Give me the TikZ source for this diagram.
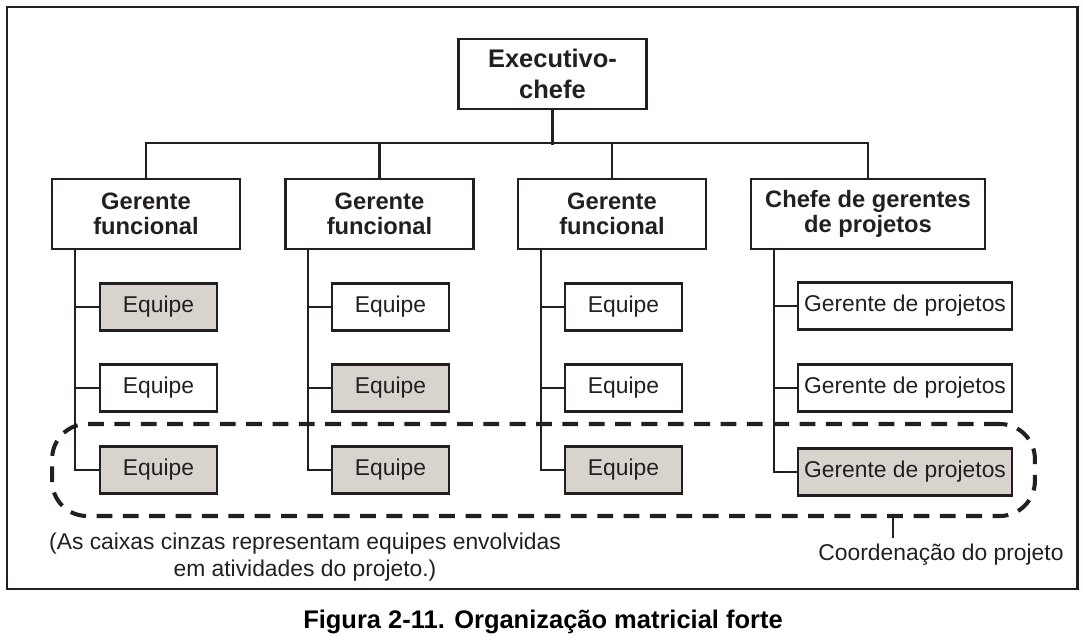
\documentclass[tikz,border=0pt]{standalone}
\usepackage{amsmath}
\usepackage{fontspec}
\setmainfont{Liberation Sans}
\usepackage{tikz}
\usetikzlibrary{arrows.meta}
\usetikzlibrary{backgrounds}
\definecolor{boxgray}{RGB}{217,211,205}
\definecolor{ink}{RGB}{35,31,32}

\begin{document}
\begin{tikzpicture}[x=0.02cm, y=-0.02cm,
        head/.style={draw=ink, line width=1.4pt, text=ink, minimum width=3.76cm, minimum height=1.4cm, inner sep=0pt, align=center, font=\fontsize{13.5}{14.5}\selectfont\bfseries},
        team/.style={draw=ink, line width=1.4pt, text=ink, minimum width=2.34cm, minimum height=0.94cm, inner sep=0pt, font=\fontsize{13}{15}\selectfont},
        link/.style={draw=ink, line width=1.2pt},
        note/.style={text=ink, align=center, font=\fontsize{13}{15.4}\selectfont}]
        \useasboundingbox (0,0) rectangle (1083,642);
        \draw[ink, line width=1.7pt] (7,7) rectangle (1077,589);

        \node[head, font=\fontsize{14.5}{17.5}\selectfont\bfseries] (exec) at (552.5,74) {Executivo-\\chefe};
        \node[head] (gf1) at (146,214) {Gerente\\funcional};
        \node[head] (gf2) at (379.5,214) {Gerente\\funcional};
        \node[head] (gf3) at (612,214) {Gerente\\funcional};
        \node[head, minimum width=4.68cm] (chefe) at (868,214) {Chefe de gerentes\\de projetos};

        \node[team, fill=boxgray] (eq11) at (158.5,307) {Equipe};
        \node[team] (eq12) at (158.5,388) {Equipe};
        \node[team, fill=boxgray] (eq13) at (158.5,470) {Equipe};
        \node[team] (eq21) at (390.5,307) {Equipe};
        \node[team, fill=boxgray] (eq22) at (390.5,388) {Equipe};
        \node[team, fill=boxgray] (eq23) at (390.5,470) {Equipe};
        \node[team] (eq31) at (623.5,307) {Equipe};
        \node[team] (eq32) at (623.5,388) {Equipe};
        \node[team, fill=boxgray] (eq33) at (623.5,470) {Equipe};
        \node[team, minimum width=4.28cm] (gp1) at (905,306) {Gerente de projetos};
        \node[team, minimum width=4.28cm] (gp2) at (905,388) {Gerente de projetos};
        \node[team, minimum width=4.28cm, fill=boxgray] (gp3) at (905,472) {Gerente de projetos};

        \draw[link] (exec.south) -- ++(0,-0.7cm);
        \draw[link] (gf1.north) -- ++(0,0.7cm) -| (chefe.north);
        \draw[link] (gf2.north) -- ++(0,0.7cm);
        \draw[link] (gf3.north) -- ++(0,0.7cm);

        \draw[link] ([xshift=0.48cm]gf1.south west) |- (eq11.west);
        \draw[link] ([xshift=0.48cm]gf1.south west) |- (eq12.west);
        \draw[link] ([xshift=0.48cm]gf1.south west) |- (eq13.west);
        \draw[link] ([xshift=0.48cm]gf2.south west) |- (eq21.west);
        \draw[link] ([xshift=0.48cm]gf2.south west) |- (eq22.west);
        \draw[link] ([xshift=0.48cm]gf2.south west) |- (eq23.west);
        \draw[link] ([xshift=0.48cm]gf3.south west) |- (eq31.west);
        \draw[link] ([xshift=0.48cm]gf3.south west) |- (eq32.west);
        \draw[link] ([xshift=0.48cm]gf3.south west) |- (eq33.west);
        \draw[link] ([xshift=0.48cm]chefe.south west) |- (gp1.west);
        \draw[link] ([xshift=0.48cm]chefe.south west) |- (gp2.west);
        \draw[link] ([xshift=0.48cm]chefe.south west) |- (gp3.west);

        % grupo de coordenacao
        \node[draw=ink, line width=2.3pt, dash pattern=on 9pt off 6pt, rounded corners=0.7cm, minimum width=19.66cm, minimum height=1.84cm] (coordbox) at (543.5,470) {};
        \coordinate (tick) at (893,516);
        \node[note] (coordlbl) at (941,555) {Coordenação do projeto};
        \draw[link] (tick) -- ++(0,-0.44cm);

        \node[note] (legend) at (305,557) {(As caixas cinzas representam equipes envolvidas\\em atividades do projeto.)};
        \node[font=\fontsize{14.5}{17}\selectfont\bfseries] (caption) at (543,622) {Figura 2-11. Organização matricial forte};
    \end{tikzpicture}
\end{document}
